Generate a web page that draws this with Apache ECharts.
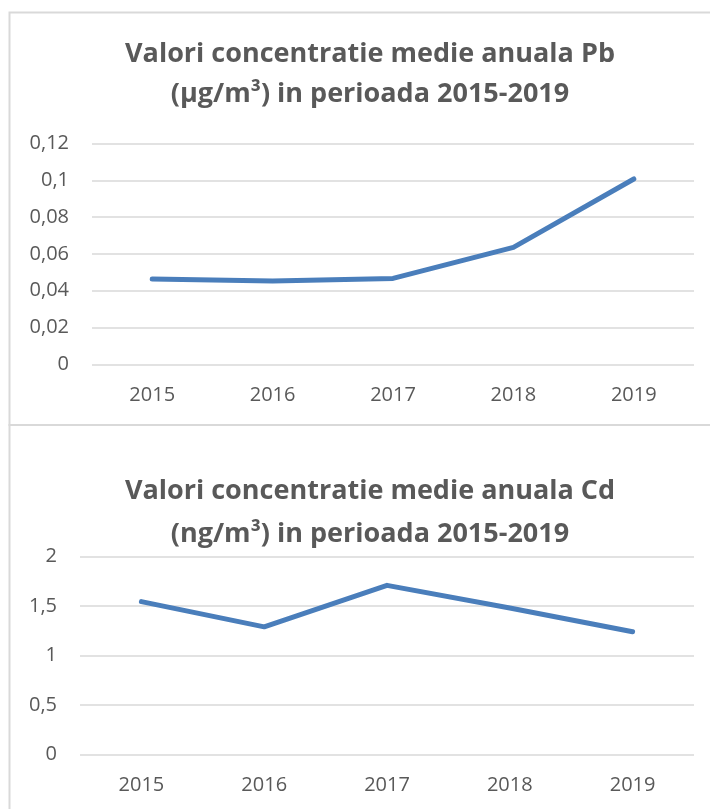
<!DOCTYPE html>
<html>
<head>
<meta charset="utf-8">
<script src="https://cdn.jsdelivr.net/npm/echarts@6/dist/echarts.min.js"></script>
<style>
html,body{margin:0;padding:0;background:#fff;}
#c{width:710px;height:809px;}
</style>
</head>
<body>
<div id="c"></div>
<script>
const years = ['2015','2016','2017','2018','2019'];
const pbValues = [0.0464, 0.0453, 0.0467, 0.0636, 0.1008];
const cdValues = [1.545, 1.29, 1.71, 1.48, 1.24];
const pbTitle = 'Valori concentratie medie anuala Pb\n(µg/m³) in perioada 2015-2019';
const cdTitle = 'Valori concentratie medie anuala Cd\n(ng/m³) in perioada 2015-2019';

const txt = '#595959';
const gridCol = '#d9d9d9';
const lineCol = '#4a7ebb';
const font = 'Open Sans';
const fmt = v => String(+v.toFixed(2)).replace('.', ',');

const chart = echarts.init(document.getElementById('c'), null, {renderer: 'canvas'});
const xAxisBase = {
  type: 'category',
  data: years,
  boundaryGap: true,
  axisLine: {show: false},
  axisTick: {show: false},
  axisLabel: {color: txt, fontSize: 20, fontFamily: font, margin: 21}
};
const yAxisBase = {
  type: 'value',
  axisLine: {show: false},
  axisTick: {show: false},
  splitLine: {lineStyle: {color: gridCol, width: 1.5}},
  axisLabel: {color: txt, fontSize: 20, fontFamily: font, margin: 23, formatter: fmt}
};
chart.setOption({
  animation: false,
  graphic: [
    {type: 'rect', shape: {x: 9.5, y: 12.5, width: 720, height: 412.5}, style: {fill: 'none', stroke: gridCol, lineWidth: 2}, silent: true},
    {type: 'rect', shape: {x: 9.5, y: 425, width: 720, height: 420}, style: {fill: 'none', stroke: gridCol, lineWidth: 2}, silent: true}
  ],
  title: [
    {text: pbTitle, left: 365, top: 29, textAlign: 'center',
     textStyle: {color: txt, fontSize: 27, fontWeight: 'bold', fontFamily: font, lineHeight: 40}},
    {text: cdTitle, left: 365, top: 465, textAlign: 'center',
     textStyle: {color: txt, fontSize: 27, fontWeight: 'bold', fontFamily: font, lineHeight: 43}}
  ],
  grid: [
    {left: 92, right: 16, top: 143.7, bottom: 444.7},
    {left: 80, right: 16, top: 556.7, bottom: 54.7}
  ],
  xAxis: [
    Object.assign({gridIndex: 0}, xAxisBase),
    Object.assign({gridIndex: 1}, xAxisBase)
  ],
  yAxis: [
    Object.assign({gridIndex: 0, min: 0, max: 0.12, interval: 0.02}, yAxisBase),
    Object.assign({gridIndex: 1, min: 0, max: 2, interval: 0.5}, yAxisBase)
  ],
  series: [
    {type: 'line', xAxisIndex: 0, yAxisIndex: 0, data: pbValues, symbol: 'none',
     lineStyle: {color: lineCol, width: 5, cap: 'round', join: 'round'}},
    {type: 'line', xAxisIndex: 1, yAxisIndex: 1, data: cdValues, symbol: 'none',
     lineStyle: {color: lineCol, width: 5, cap: 'round', join: 'round'}}
  ]
});
</script>
</body>
</html>
